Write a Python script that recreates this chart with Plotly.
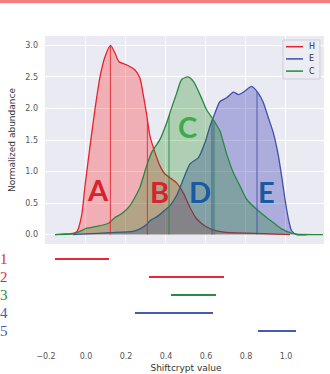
import numpy as np
import plotly.graph_objects as go

# ---------------- data ----------------
series_names = ["H", "E", "C"]
line_colors = {"H": "rgb(230,35,45)", "E": "rgb(64,80,170)", "C": "rgb(40,135,65)"}
fill_colors = {"H": "rgba(255,0,0,0.25)", "E": "rgba(50,50,180,0.33)", "C": "rgba(0,128,0,0.25)"}

H_x = [-0.15, -0.10, -0.06, -0.04, -0.017, 0.0, 0.025, 0.05, 0.075, 0.10, 0.128, 0.15, 0.17, 0.21,
       0.25, 0.275, 0.29, 0.308, 0.325, 0.35, 0.375, 0.40, 0.425, 0.458, 0.49, 0.525, 0.558, 0.608,
       0.658, 0.725, 0.85, 1.025]
H_y = [0.0, 0.01, 0.02, 0.05, 0.3, 0.77, 1.4, 1.99, 2.5, 2.82, 3.0, 2.88, 2.74, 2.69,
       2.61, 2.48, 2.24, 1.91, 1.56, 1.30, 1.09, 0.96, 0.90, 0.82, 0.67, 0.43, 0.25, 0.12,
       0.06, 0.03, 0.02, 0.0]

E_x = [-0.06, 0.0, 0.125, 0.24, 0.275, 0.308, 0.325, 0.358, 0.375, 0.40, 0.425, 0.458, 0.492,
       0.525, 0.567, 0.60, 0.625, 0.65, 0.675, 0.708, 0.742, 0.767, 0.792, 0.833, 0.867, 0.892,
       0.917, 0.942, 0.967, 0.983, 1.0, 1.017, 1.033, 1.058, 1.11]
E_y = [0.0, 0.01, 0.03, 0.05, 0.09, 0.16, 0.22, 0.28, 0.32, 0.39, 0.46, 0.62, 0.88,
       1.12, 1.22, 1.46, 1.72, 1.93, 2.11, 2.17, 2.26, 2.22, 2.26, 2.35, 2.24, 2.09,
       1.85, 1.61, 1.25, 0.93, 0.56, 0.25, 0.06, 0.0, 0.0]

C_x = [-0.15, -0.06, -0.025, 0.008, 0.058, 0.117, 0.15, 0.183, 0.225, 0.258, 0.275, 0.308, 0.333,
       0.375, 0.408, 0.433, 0.458, 0.483, 0.515, 0.542, 0.575, 0.608, 0.642, 0.675, 0.708, 0.742,
       0.775, 0.808, 0.858, 0.908, 0.942, 0.983, 1.025, 1.058, 1.19]
C_y = [0.0, 0.01, 0.05, 0.10, 0.13, 0.18, 0.27, 0.33, 0.46, 0.64, 0.75, 1.09, 1.30,
       1.51, 1.77, 2.01, 2.24, 2.46, 2.50, 2.43, 2.22, 1.98, 1.82, 1.64, 1.28, 0.98,
       0.77, 0.56, 0.40, 0.27, 0.19, 0.09, 0.03, 0.005, 0.0]

curves = {"H": (H_x, H_y), "E": (E_x, E_y), "C": (C_x, C_y)}

# vertical marker lines (x positions) per series
marker_x = {"H": [0.127, 0.312], "C": [0.42, 0.645], "E": [0.635, 0.86]}

# region letters
letters = ["A", "B", "C", "D", "E"]
letter_x = [0.065, 0.37, 0.51, 0.575, 0.905]
letter_y = [0.72, 0.68, 1.72, 0.68, 0.68]
letter_colors = ["rgb(214,35,45)", "rgb(214,35,45)", "rgb(60,173,70)", "rgb(25,90,160)", "rgb(25,90,160)"]

# interval rows
row_labels = ["1", "2", "3", "4", "5"]
row_start = [-0.155, 0.315, 0.425, 0.245, 0.86]
row_end = [0.115, 0.69, 0.65, 0.635, 1.05]
row_colors = ["rgb(232,40,50)", "rgb(232,40,50)", "rgb(40,140,70)", "rgb(70,90,175)", "rgb(70,90,175)"]

xticks = [-0.2, 0.0, 0.2, 0.4, 0.6, 0.8, 1.0, 1.2]
yticks = [0.0, 0.5, 1.0, 1.5, 2.0, 2.5, 3.0]

# ---------------- figure ----------------
fig = go.Figure()

for name in series_names:
    xs, ys = curves[name]
    fig.add_trace(go.Scatter(x=xs, y=ys, mode="lines", fill="tozeroy",
                             fillcolor=fill_colors[name],
                             line=dict(color=line_colors[name], width=1.3, shape="spline", smoothing=0.6),
                             showlegend=False, hoverinfo="skip", xaxis="x", yaxis="y"))

for name in ["H", "C", "E"]:
    xs, ys = curves[name]
    for mx in marker_x[name]:
        h = float(np.interp(mx, xs, ys))
        fig.add_trace(go.Scatter(x=[mx, mx], y=[0, h], mode="lines",
                                 line=dict(color=line_colors[name], width=1.1),
                                 opacity=0.8, showlegend=False, hoverinfo="skip",
                                 xaxis="x", yaxis="y"))

for i in range(len(row_labels)):
    fig.add_trace(go.Scatter(x=[row_start[i], row_end[i]], y=[i + 1, i + 1], mode="lines",
                             line=dict(color=row_colors[i], width=2),
                             showlegend=False, hoverinfo="skip", xaxis="x2", yaxis="y2"))

for i, t in enumerate(letters):
    fig.add_annotation(x=letter_x[i], y=letter_y[i], xref="x", yref="y", text="<b>%s</b>" % t,
                       showarrow=False, font=dict(family="Lato", size=29, color=letter_colors[i]),
                       xanchor="center", yanchor="middle")

for i, t in enumerate(row_labels):
    fig.add_annotation(x=-0.145, y=i + 1, xref="paper", yref="y2", text=t, showarrow=False,
                       font=dict(family="Liberation Serif", size=15, color=row_colors[i]),
                       xanchor="center", yanchor="middle")

# custom legend (x domain / y domain of the top axes)
W, L = 279.0, 45.0
TOP, HGT = 36.0, 208.0
def dx(px):
    return (px - L) / W
def dy(py):
    return (TOP + HGT - py) / HGT

shapes = []
shapes.append(dict(type="rect", xref="x domain", yref="y domain", x0=dx(283), x1=dx(320),
                   y0=dy(79), y1=dy(40), fillcolor="rgb(236,236,243)",
                   line=dict(color="rgb(205,205,212)", width=1), layer="above"))
for k, name in enumerate(series_names):
    py = 46.7 + 12.2 * k
    shapes.append(dict(type="line", xref="x domain", yref="y domain", x0=dx(286), x1=dx(303),
                       y0=dy(py), y1=dy(py), line=dict(color=line_colors[name], width=1.5), layer="above"))
    fig.add_annotation(x=dx(311.5), y=dy(py), xref="x domain", yref="y domain", text=name,
                       showarrow=False, font=dict(family="DejaVu Sans", size=8, color="#333"),
                       xanchor="center", yanchor="middle")

# top pink bar
shapes.append(dict(type="rect", xref="paper", yref="paper", x0=-0.2, x1=1.2,
                   y0=(347 - 3.3) / 311.0, y1=(347 + 2) / 311.0,
                   fillcolor="rgb(240,128,128)", line=dict(width=0)))

fig.update_layout(
    width=330, height=374,
    margin=dict(l=45, r=4, t=36, b=27, autoexpand=False),
    paper_bgcolor="white", plot_bgcolor="white",
    shapes=shapes,
    xaxis=dict(domain=[0, 279 / 281.0], range=[-0.2, 1.195], tickvals=xticks, showticklabels=False,
               showgrid=True, gridcolor="white", gridwidth=1, zeroline=False, showline=False, ticks="",
               anchor="y", automargin=False),
    yaxis=dict(domain=[(347 - 244) / 311.0, 1.0], range=[-0.15, 3.15], tickvals=yticks,
               ticktext=["%.1f" % v for v in yticks], showgrid=True, gridcolor="white", gridwidth=1,
               zeroline=False, showline=False, ticks="", ticklabelstandoff=6,
               tickfont=dict(family="DejaVu Sans", size=8, color="#555"),
               title=dict(text="Normalized abundance", standoff=8,
                          font=dict(family="DejaVu Sans", size=9, color="#333")),
               anchor="x", automargin=False),
    xaxis2=dict(domain=[1 / 281.0, 1.0], range=[-0.2, 1.2], tickvals=xticks,
                ticktext=[("%.1f" % v).replace("-", "\u2212") for v in xticks],
                showgrid=False, zeroline=False, showline=False, ticks="", ticklabelstandoff=3,
                tickfont=dict(family="DejaVu Sans", size=8, color="#555"),
                title=dict(text="Shiftcrypt value", standoff=4,
                           font=dict(family="DejaVu Sans", size=9, color="#333")),
                anchor="y2", automargin=False),
    yaxis2=dict(domain=[0, (347 - 250) / 311.0], range=[5.89, 0.5], showgrid=False, zeroline=False,
                showline=False, showticklabels=False, ticks="", anchor="x2", automargin=False),
)

# grey background for the top panel
fig.add_shape(type="rect", xref="x domain", yref="y domain", x0=0, x1=1, y0=0, y1=1,
              fillcolor="rgb(234,234,242)", line=dict(width=0), layer="below")

fig.write_html("out.html", config={"displayModeBar": False},
               post_script="document.body.style.margin='0';document.body.style.padding='0';")
